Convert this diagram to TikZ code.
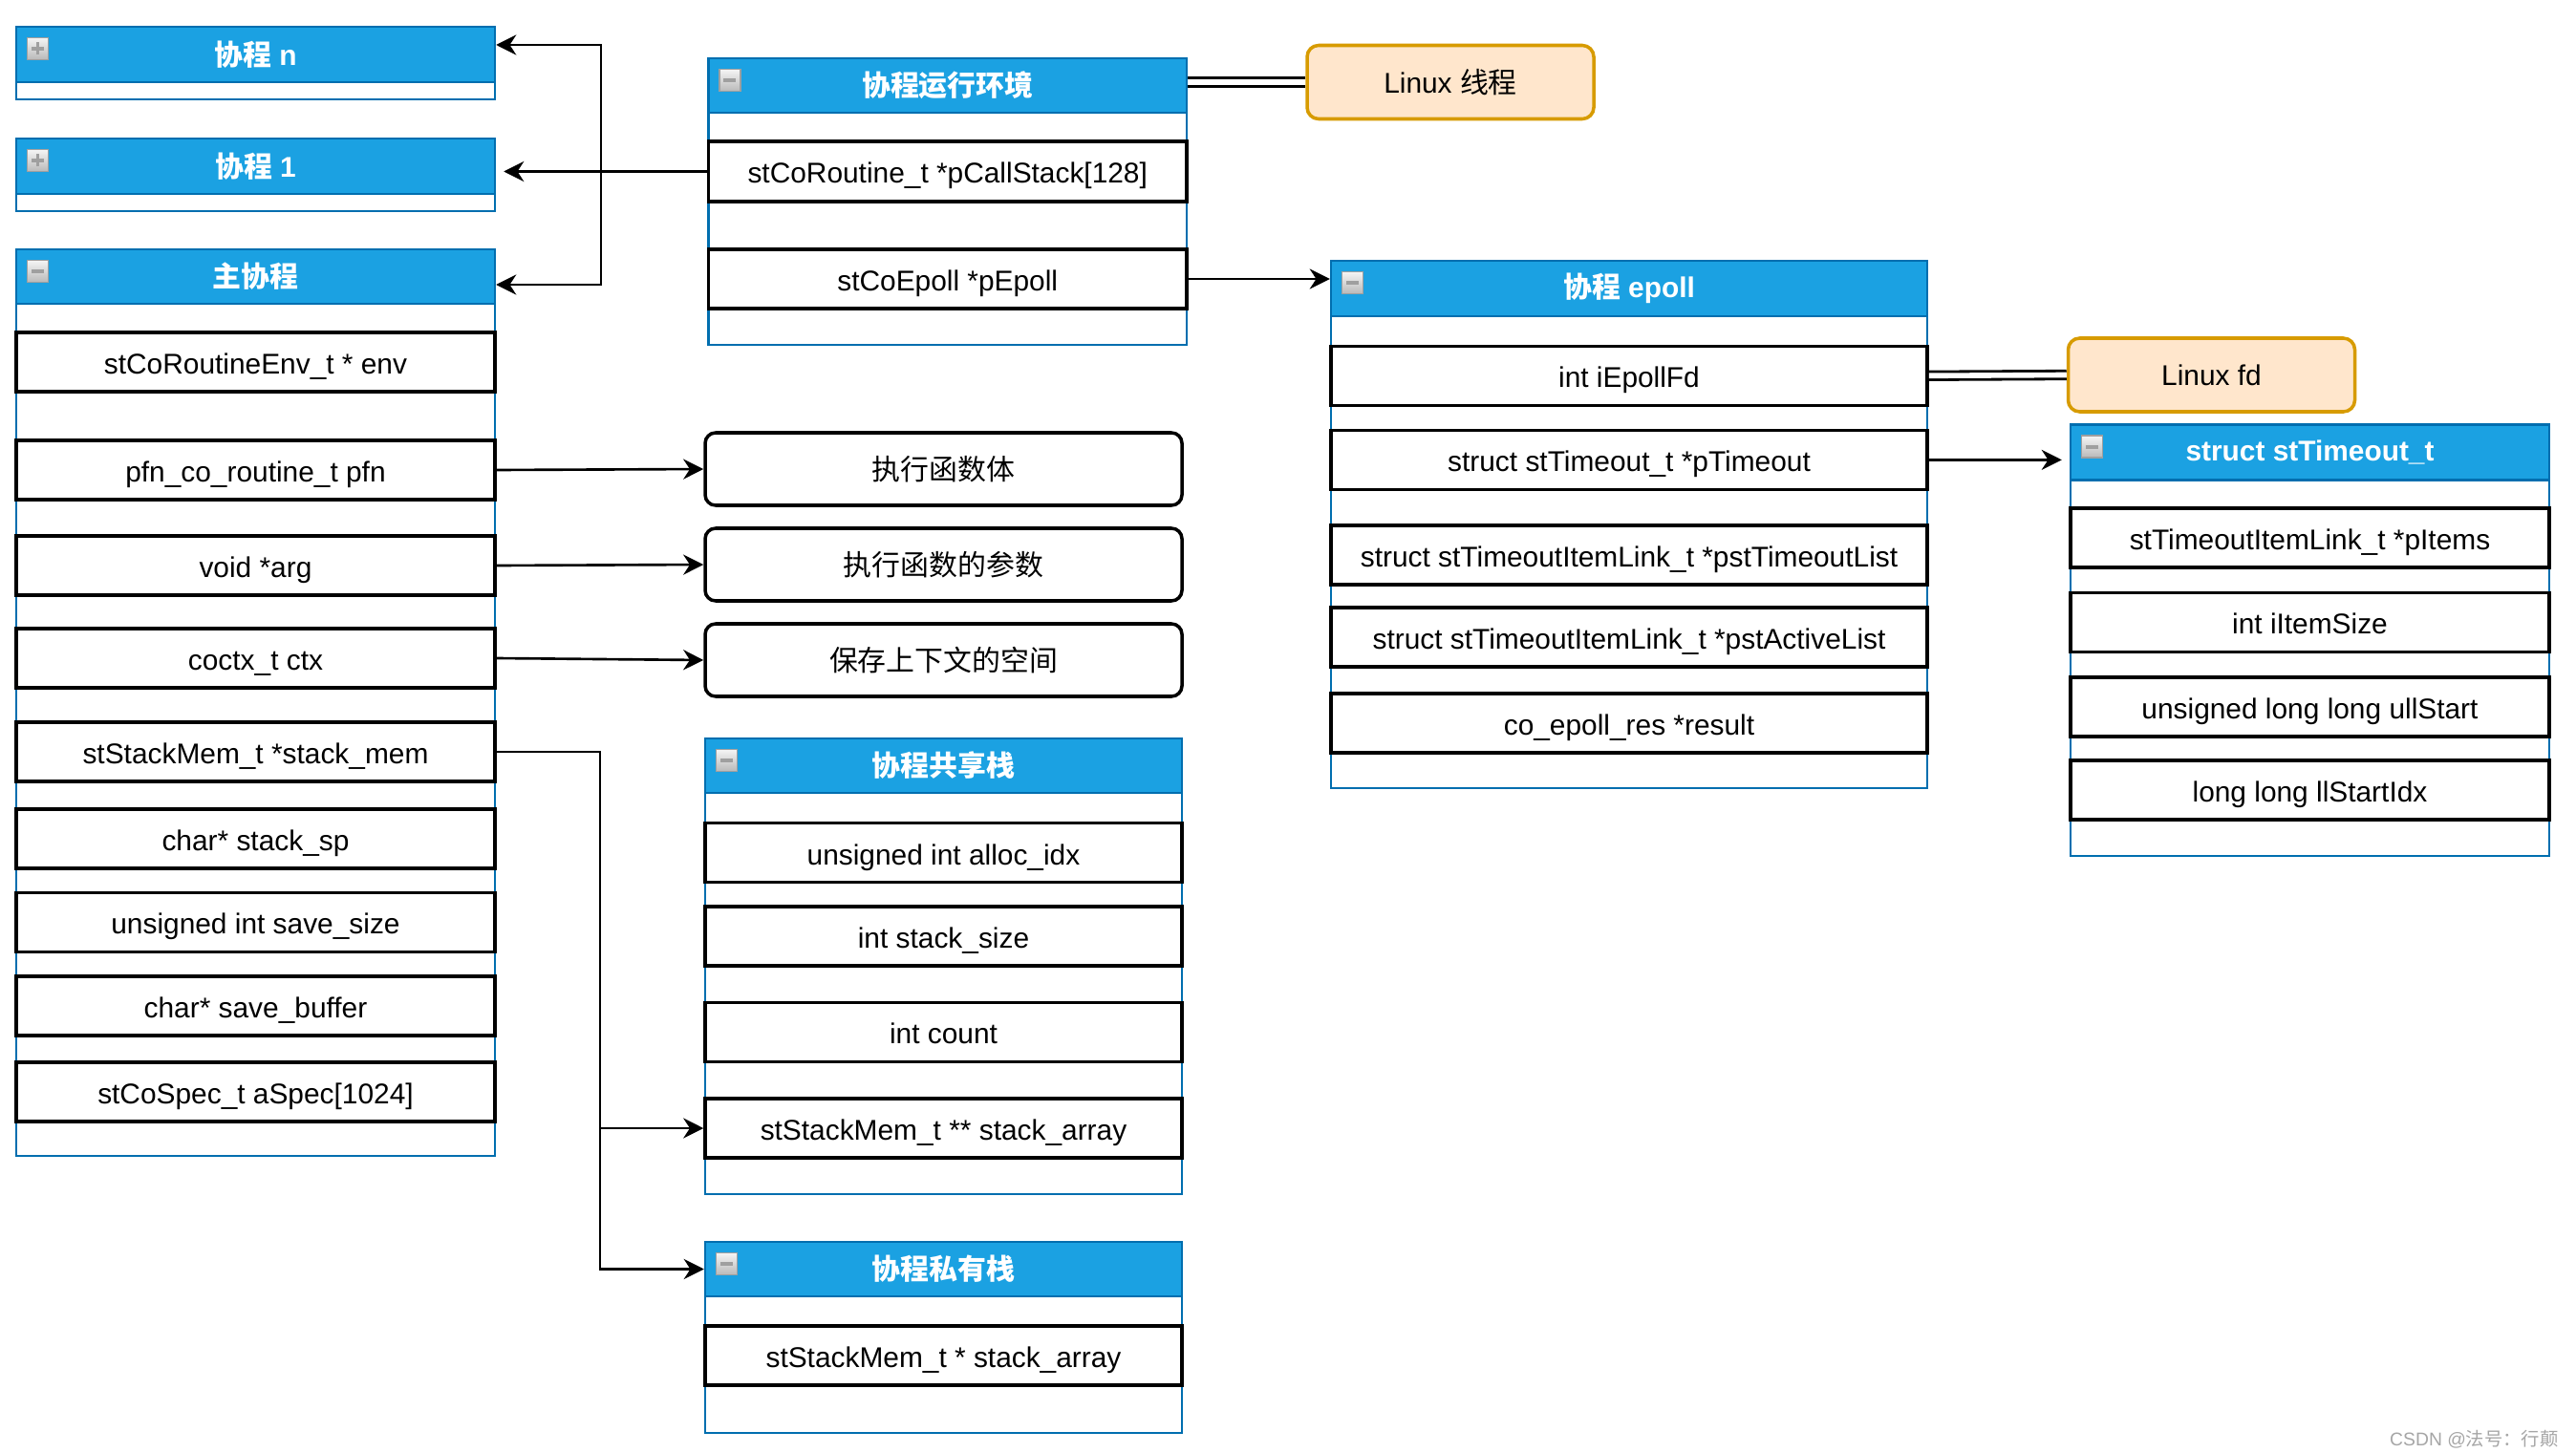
\documentclass[tikz,border=0pt]{standalone}
\usepackage{fontspec}
\setmainfont{Liberation Sans}
\newfontfamily\cjk{Noto Sans CJK SC}
\usetikzlibrary{arrows.meta, positioning}
\definecolor{hdrblue}{HTML}{1BA1E2}
\definecolor{hdrline}{HTML}{006EAF}
\definecolor{osfill}{HTML}{FFE6CC}
\definecolor{osline}{HTML}{D79B00}

\begin{document}
\begin{tikzpicture}[
    font=\fontsize{8.5}{10}\selectfont,
    cont/.style={draw=hdrline, line width=0.7pt, fill=white, inner sep=0, minimum width=#1},
    cont/.default=5.01cm,
    hdr/.style={draw=hdrline, line width=0.7pt, fill=hdrblue, text=white, font=\fontsize{8.5}{10}\selectfont\bfseries, inner sep=0, minimum height=0.58cm, minimum width=#1, anchor=north},
    hdr/.default=5.01cm,
    field/.style={draw, line width=1pt, fill=white, inner sep=0, text height=7.5pt, text depth=0.5pt, minimum height=0.62cm, minimum width=#1},
    field/.default=5.01cm,
    note/.style={draw, line width=1pt, rounded corners=0.11cm, fill=white, minimum width=4.99cm, minimum height=0.76cm},
    osbox/.style={draw=osline, fill=osfill, line width=1pt, rounded corners=0.12cm, minimum width=3cm, minimum height=0.77cm},
    tog/.style={draw=gray!75, line width=0.4pt, top color=gray!8, bottom color=gray!55, inner sep=0, minimum width=0.22cm, minimum height=0.23cm, anchor=north west},
    togminus/.style={tog, path picture={\draw[line width=1.1pt] ([xshift=-0.065cm]path picture bounding box.center) -- ([xshift=0.065cm]path picture bounding box.center);}},
    togplus/.style={tog, path picture={\draw[line width=1.1pt] ([xshift=-0.065cm]path picture bounding box.center) -- ([xshift=0.065cm]path picture bounding box.center); \draw[line width=1.1pt] ([yshift=-0.065cm]path picture bounding box.center) -- ([yshift=0.065cm]path picture bounding box.center);}},
    conn/.style={-{Stealth[length=6pt, width=6pt]}, line width=0.75pt},
    double line/.style={double, double distance=1.6pt, line width=0.8pt}
]
    \path[use as bounding box, fill=white] (0,0) rectangle (26.96,15.2);

    % Coroutine n and coroutine 1 (collapsed)
    \node[cont, minimum height=0.76cm] (conN) at (2.675,14.54) {};
    \node[hdr] (conNhdr) at (conN.north) {{\cjk 协程} n};
    \node[togplus] (conNtog) at ([xshift=0.12cm, yshift=-0.12cm]conNhdr.north west) {};

    \node[cont, minimum height=0.76cm] (co1) at (2.675,13.37) {};
    \node[hdr] (co1hdr) at (co1.north) {{\cjk 协程} 1};
    \node[togplus] (co1tog) at ([xshift=0.12cm, yshift=-0.12cm]co1hdr.north west) {};

    % Main coroutine
    \node[cont, minimum height=9.49cm] (main) at (2.675,7.845) {};
    \node[hdr, minimum height=0.57cm] (mainhdr) at (main.north) {\cjk 主协程};
    \node[togminus] (maintog) at ([xshift=0.12cm, yshift=-0.12cm]mainhdr.north west) {};
    \node[field] (env) at (2.675,11.41) {stCoRoutineEnv\_t * env};
    \node[field] (pfn) at (2.675,10.28) {pfn\_co\_routine\_t pfn};
    \node[field] (arg) at (2.675,9.28) {void *arg};
    \node[field] (ctx) at (2.675,8.31) {coctx\_t ctx};
    \node[field] (stackmem) at (2.675,7.33) {stStackMem\_t *stack\_mem};
    \node[field] (stacksp) at (2.675,6.42) {char* stack\_sp};
    \node[field] (savesize) at (2.675,5.545) {unsigned int save\_size};
    \node[field] (savebuf) at (2.675,4.67) {char* save\_buffer};
    \node[field] (aspec) at (2.675,3.77) {stCoSpec\_t aSpec[1024]};

    % Coroutine environment
    \node[cont=5.005cm, minimum height=3cm] (envbox) at (9.9175,13.09) {};
    \node[hdr=5.005cm, minimum height=0.57cm] (envhdr) at (envbox.north) {\cjk 协程运行环境};
    \node[togminus] (envtog) at ([xshift=0.12cm, yshift=-0.12cm]envhdr.north west) {};
    \node[field=5.005cm, minimum height=0.63cm] (callstack) at (9.9175,13.405) {stCoRoutine\_t *pCallStack[128]};
    \node[field=5.005cm] (pepoll) at (9.9175,12.28) {stCoEpoll *pEpoll};

    \node[osbox] (thread) at (15.18,14.34) {Linux {\cjk 线程}};

    % What the main coroutine fields hold
    \node[note] (body) at (9.875,10.29) {\cjk 执行函数体};
    \node[note] (param) at (9.875,9.29) {\cjk 执行函数的参数};
    \node[note] (space) at (9.875,8.29) {\cjk 保存上下文的空间};

    % Shared stack
    \node[cont=4.99cm, minimum height=4.77cm] (share) at (9.875,5.085) {};
    \node[hdr=4.99cm, minimum height=0.57cm] (sharehdr) at (share.north) {\cjk 协程共享栈};
    \node[togminus] (sharetog) at ([xshift=0.12cm, yshift=-0.12cm]sharehdr.north west) {};
    \node[field=4.99cm] (allocidx) at (9.875,6.273) {unsigned int alloc\_idx};
    \node[field=4.99cm] (stacksize) at (9.875,5.40) {int stack\_size};
    \node[field=4.99cm] (count) at (9.875,4.395) {int count};
    \node[field=4.99cm] (stackarr) at (9.875,3.39) {stStackMem\_t ** stack\_array};

    % Private stack
    \node[cont=4.99cm, minimum height=2cm] (priv) at (9.875,1.20) {};
    \node[hdr=4.99cm, minimum height=0.57cm] (privhdr) at (priv.north) {\cjk 协程私有栈};
    \node[togminus] (privtog) at ([xshift=0.12cm, yshift=-0.12cm]privhdr.north west) {};
    \node[field=4.99cm] (privarr) at (9.875,1.0125) {stStackMem\_t * stack\_array};

    % Coroutine epoll
    \node[cont=6.24cm, minimum height=5.52cm] (epoll) at (17.05,9.71) {};
    \node[hdr=6.24cm] (epollhdr) at (epoll.north) {{\cjk 协程} epoll};
    \node[togminus] (epolltog) at ([xshift=0.12cm, yshift=-0.12cm]epollhdr.north west) {};
    \node[field=6.24cm] (epollfd) at (17.05,11.267) {int iEpollFd};
    \node[field=6.24cm] (ptimeout) at (17.05,10.386) {struct stTimeout\_t *pTimeout};
    \node[field=6.24cm] (tolist) at (17.05,9.39) {struct stTimeoutItemLink\_t *pstTimeoutList};
    \node[field=6.24cm] (actlist) at (17.05,8.53) {struct stTimeoutItemLink\_t *pstActiveList};
    \node[field=6.24cm] (result) at (17.05,7.63) {co\_epoll\_res *result};

    \node[osbox] (linuxfd) at (23.145,11.275) {Linux fd};

    % Timeout struct
    \node[cont, minimum height=4.514cm] (timeout) at (24.175,8.497) {};
    \node[hdr] (tohdr) at (timeout.north) {struct stTimeout\_t};
    \node[togminus] (totog) at ([xshift=0.12cm, yshift=-0.12cm]tohdr.north west) {};
    \node[field] (items) at (24.175,9.57) {stTimeoutItemLink\_t *pItems};
    \node[field] (itemsize) at (24.175,8.685) {int iItemSize};
    \node[field] (ullstart) at (24.175,7.80) {unsigned long long ullStart};
    \node[field] (llstart) at (24.175,6.93) {long long llStartIdx};

    % Connectors
    \coordinate (elbowL) at (6.29,13.405);
    \coordinate (split) at (6.28,7.33);
    \draw[conn] (callstack.west) -- (callstack.west -| elbowL) |- ([yshift=0.1cm]conNhdr.east);
    \draw[conn, shorten >=0.08cm] (callstack.west) -- (callstack.west -| co1hdr.east);
    \draw[conn] (callstack.west) -- (callstack.west -| elbowL) |- ([yshift=-0.085cm]mainhdr.east);
    \draw[double line] (envhdr.east |- thread.west) -- (thread.west);
    \draw[conn] (pepoll.east) -- (pepoll.east -| epollhdr.west);
    \draw[double line] (epollfd.east) -- (linuxfd.west);
    \draw[conn, shorten >=0.08cm] (ptimeout.east) -- (ptimeout.east -| tohdr.west);
    \draw[conn] (pfn.east) -- (body.west);
    \draw[conn] (arg.east) -- (param.west);
    \draw[conn] (ctx.east) -- (space.west);
    \draw[conn] (stackmem.east) -- (split) |- (stackarr.west);
    \draw[conn] (stackmem.east) -- (split) |- (privhdr.west);

    \node[anchor=east, text=gray!70, font=\fontsize{5.5}{6}\selectfont] (mark) at (26.9,0.13) {CSDN @{\cjk 法号：行颠}};
\end{tikzpicture}
\end{document}
